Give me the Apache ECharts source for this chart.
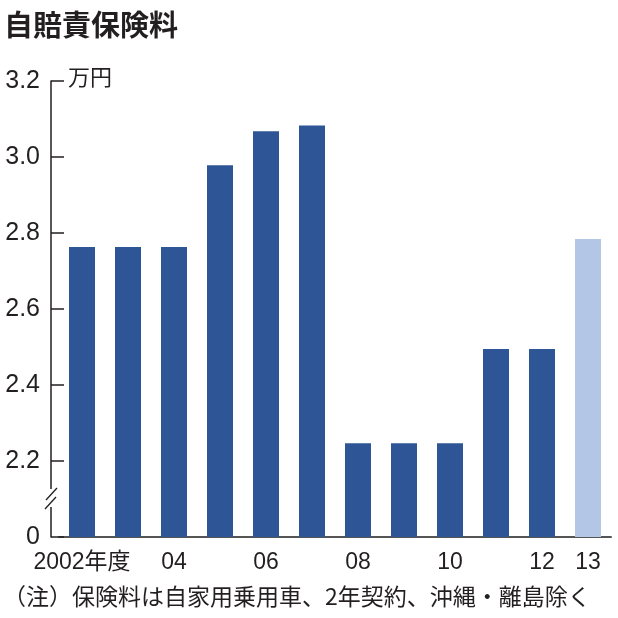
<!DOCTYPE html>
<html><head><meta charset="utf-8">
<script src="https://cdn.jsdelivr.net/npm/echarts@6/dist/echarts.min.js"></script>
<style>html,body{margin:0;padding:0;background:#fff}#c{width:618px;height:618px}</style>
</head><body><div id="c"></div>
<script>
const years = ['2002','2003','2004','2005','2006','2007','2008','2009','2010','2011','2012','2013'];
const xLabels = ['2002年度','','04','','06','','08','','10','','12','13'];
const premiums = [2.763, 2.763, 2.763, 2.978, 3.068, 3.083, 2.247, 2.247, 2.247, 2.495, 2.495, 2.784];
const highlight = [false,false,false,false,false,false,false,false,false,false,false,true];
const yMin = 2.0, yMax = 3.2, yStep = 0.2;
const titleText = '自賠責保険料';
const unitText = '万円';
const noteText = '（注）保険料は自家用乗用車、2年契約、沖縄・離島除く';

const DARK = '#2e5596', LIGHT = '#b4c6e6', INK = '#231f20';
const FONT = '"Liberation Sans","Noto Sans CJK JP",sans-serif';
const JFONT = '"Noto Sans CJK JP",sans-serif';

const chart = echarts.init(document.getElementById('c'), null, {renderer:'canvas'});
chart.setOption({
  animation:false,
  backgroundColor:'#fff',
  title:{text:titleText,left:4,top:10,padding:0,textStyle:{fontFamily:JFONT,fontSize:29,fontWeight:'bold',color:INK}},
  grid:{left:59,right:7,top:81,bottom:81,containLabel:false},
  xAxis:{type:'category',data:years,boundaryGap:true,
    axisLine:{show:true,lineStyle:{color:'#555',width:2}},
    axisTick:{show:false},
    axisLabel:{interval:0,margin:14,color:INK,fontFamily:FONT,fontSize:23,
      formatter:(v,i)=>xLabels[i]}},
  yAxis:{type:'value',min:yMin,max:yMax,interval:yStep,offset:8,
    axisLine:{show:true,lineStyle:{color:INK,width:1.5}},
    axisTick:{show:true,inside:true,length:13,lineStyle:{color:INK,width:1.5}},
    splitLine:{show:false},
    axisLabel:{margin:11,color:INK,fontFamily:FONT,fontSize:25,
      formatter:v=>Math.abs(v-yMin)<1e-9?'0':v.toFixed(1)}},
  series:[{type:'bar',barWidth:26,
    data:premiums.map((v,i)=>({value:v,itemStyle:{color:highlight[i]?LIGHT:DARK}}))}]
});
// axis break marks
const yb = chart.convertToPixel({yAxisIndex:0}, 2.1);
const ax = chart.convertToPixel({xAxisIndex:0}, 0) - 31; // y-axis line x
chart.setOption({graphic:[
  {type:'text',left:68,top:66,style:{text:unitText,fontFamily:JFONT,fontSize:22,fill:INK}},
  {type:'text',left:3,top:585,style:{text:noteText,fontFamily:JFONT,fontSize:23,fill:INK}},
  {type:'rect',shape:{x:ax-6,y:yb-10,width:12,height:18},style:{fill:'#fff'},z:100},
  {type:'line',shape:{x1:ax-5,y1:yb+1,x2:ax+6,y2:yb-11},style:{stroke:INK,lineWidth:1.3},z:101},
  {type:'line',shape:{x1:ax-6,y1:yb+10,x2:ax+5,y2:yb-2},style:{stroke:INK,lineWidth:1.3},z:101}
]});
</script></body></html>
